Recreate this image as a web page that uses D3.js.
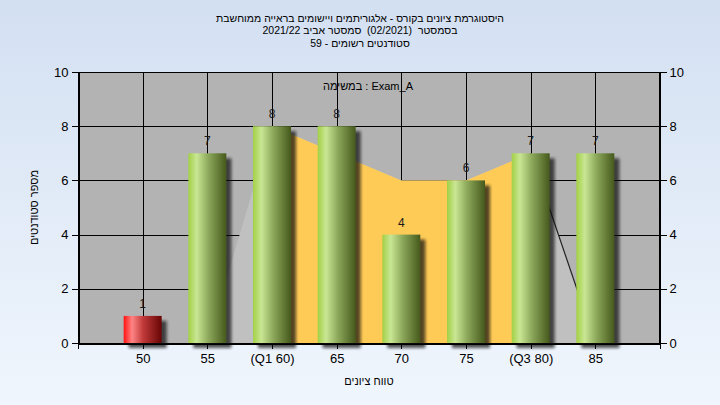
<!DOCTYPE html>
<html><head><meta charset="utf-8">
<script src="https://cdn.jsdelivr.net/npm/d3@7"></script>
<style>
html,body{margin:0;padding:0;background:#e2ebf7;}
svg{display:block;font-family:"Liberation Sans","DejaVu Sans",Arial,sans-serif;}
text.pre{white-space:pre;}
</style></head>
<body><svg id="c" width="720" height="405"></svg>
<script>
// ---- data ----
const titleLines = ["היסטוגרמת ציונים בקורס - אלגוריתמים ויישומים בראייה ממוחשבת",
                    "בסמסטר  (02/2021)  סמסטר אביב 2021/22",
                    "סטודנטים רשומים - 59"];
const subtitle = "במשימה : Exam_A";
const xTitle = "טווח ציונים";
const yTitle = "מספר סטודנטים";
const scores = [50, 55, 60, 65, 70, 75, 80, 85];
const scoreLabels = ["50", "55", "(Q1 60)", "65", "70", "75", "(Q3 80)", "85"];
const counts = [1, 7, 8, 8, 4, 6, 7, 7];
const passScore = 55;
const curveScores = [55, 60, 65, 70, 75, 80, 85];
const curveValues = [0, 8, 7, 6, 6, 7, 0];
const q1 = 60, q3 = 80;
const yTicks = [0, 2, 4, 6, 8, 10];

// ---- layout ----
const W = 720, H = 405;
const L = 78, R = 660, T = 72, B = 343;
const svg = d3.select("#c");
const defs = svg.append("defs");

const bg = defs.append("linearGradient").attr("id","bg").attr("x1",0).attr("y1",0).attr("x2",0).attr("y2",1);
bg.append("stop").attr("offset","0%").attr("stop-color","#d3e0f2");
bg.append("stop").attr("offset","100%").attr("stop-color","#f0f6fd");

function cyl(id, stops){
  const g = defs.append("linearGradient").attr("id",id).attr("x1",0).attr("y1",0).attr("x2",1).attr("y2",0);
  stops.forEach(s=>g.append("stop").attr("offset",s[0]).attr("stop-color",s[1]));
}
cyl("gGreen",[["0%","#a2d046"],["22%","#c9e694"],["52%","#8eaa5c"],["100%","#45591c"]]);
cyl("gRed",[["0%","#ff1212"],["22%","#ff8484"],["52%","#bf3838"],["100%","#680505"]]);

const f = defs.append("filter").attr("id","sh").attr("x","-30%").attr("y","-30%").attr("width","160%").attr("height","160%");
f.append("feGaussianBlur").attr("stdDeviation",1.5);

svg.append("rect").attr("width",W).attr("height",H).attr("fill","url(#bg)");

const x = d3.scaleLinear().domain([45, 90]).range([L, R]);
const y = d3.scaleLinear().domain([0, 10]).range([B, T]);

// plot background
svg.append("rect").attr("x",L).attr("y",T).attr("width",R-L).attr("height",B-T).attr("fill","#b3b3b3");

// grid
const grid = svg.append("g").attr("stroke","#000").attr("stroke-width",1).attr("shape-rendering","crispEdges");
grid.selectAll("line.v").data(scores).enter().append("line")
  .attr("x1",d=>Math.round(x(d))+0.5).attr("x2",d=>Math.round(x(d))+0.5).attr("y1",T).attr("y2",B);
grid.selectAll("line.h").data(yTicks.filter(t=>t>0&&t<10)).enter().append("line")
  .attr("x1",L).attr("x2",R).attr("y1",d=>Math.round(y(d))+0.5).attr("y2",d=>Math.round(y(d))+0.5);

// areas
const curve = curveScores.map((s,i)=>({s, v:curveValues[i]}));
const area = d3.area().x(d=>x(d.s)).y0(y(0)).y1(d=>y(d.v));
svg.append("path").datum(curve).attr("d",area).attr("fill","#c0c0c0");
svg.append("path").datum(curve.filter(d=>d.s>=q1&&d.s<=q3)).attr("d",area).attr("fill","#ffcb57");
svg.append("path").datum(curve.filter(d=>d.s>=q3)).attr("d",d3.line().x(d=>x(d.s)).y(d=>y(d.v)))
  .attr("fill","none").attr("stroke","#222").attr("stroke-width",1.2);

// plot border
svg.append("rect").attr("x",L+0.5).attr("y",T+0.5).attr("width",R-L-1).attr("height",B-T)
  .attr("fill","none").attr("stroke","#000").attr("shape-rendering","crispEdges");

// bars
const bw = 38;
const bars = scores.map((s,i)=>({s, c:counts[i], lab:scoreLabels[i]}));
svg.append("g").selectAll("rect").data(bars).enter().append("rect")
  .attr("x",d=>x(d.s)-bw/2+5).attr("y",d=>y(d.c)+5).attr("width",bw).attr("height",d=>y(0)-y(d.c))
  .attr("fill","#111").attr("opacity",0.7).attr("filter","url(#sh)");
svg.append("g").selectAll("rect").data(bars).enter().append("rect")
  .attr("x",d=>x(d.s)-bw/2).attr("y",d=>y(d.c)).attr("width",bw).attr("height",d=>y(0)-y(d.c))
  .attr("fill",d=>d.s<passScore?"url(#gRed)":"url(#gGreen)");
svg.append("g").selectAll("text").data(bars).enter().append("text")
  .attr("x",d=>x(d.s)).attr("y",d=>y(d.c)-8).attr("text-anchor","middle")
  .attr("font-size",12).attr("fill","#1a1a1a").text(d=>d.c);

// axes
function styleAxis(g){
  g.selectAll("text").attr("font-size",13).attr("fill","#000").attr("font-family",null);
  g.selectAll("line,path").attr("stroke","#000");
  g.attr("shape-rendering","crispEdges");
}
svg.append("g").attr("transform",`translate(${L+0.5},0)`)
  .call(d3.axisLeft(y).tickValues(yTicks).tickSize(7).tickSizeOuter(7).tickPadding(3).tickFormat(d3.format("d"))).call(styleAxis);
svg.append("g").attr("transform",`translate(${R-0.5},0)`)
  .call(d3.axisRight(y).tickValues(yTicks).tickSize(7).tickSizeOuter(7).tickPadding(3).tickFormat(d3.format("d"))).call(styleAxis);
svg.append("g").attr("transform",`translate(0,${B+0.5})`)
  .call(d3.axisBottom(x).tickValues(scores).tickSize(5).tickSizeOuter(5).tickPadding(5).tickFormat((d,i)=>scoreLabels[i])).call(styleAxis);

// titles
svg.append("g").selectAll("text").data(titleLines).enter().append("text").attr("class","pre")
  .attr("x",360).attr("y",(d,i)=>21.5+i*12.5).attr("text-anchor","middle")
  .attr("font-size",10.5).attr("fill","#000").text(d=>d);
svg.append("text").attr("x",368).attr("y",90).attr("text-anchor","middle")
  .attr("font-size",11).attr("fill","#000").text(subtitle);
svg.append("text").attr("x",369).attr("y",385).attr("text-anchor","middle")
  .attr("font-size",11).attr("fill","#000").text(xTitle);
svg.append("text").attr("transform",`translate(38,${(T+B)/2}) rotate(-90)`).attr("text-anchor","middle")
  .attr("font-size",11).attr("fill","#000").text(yTitle);
</script></body></html>
